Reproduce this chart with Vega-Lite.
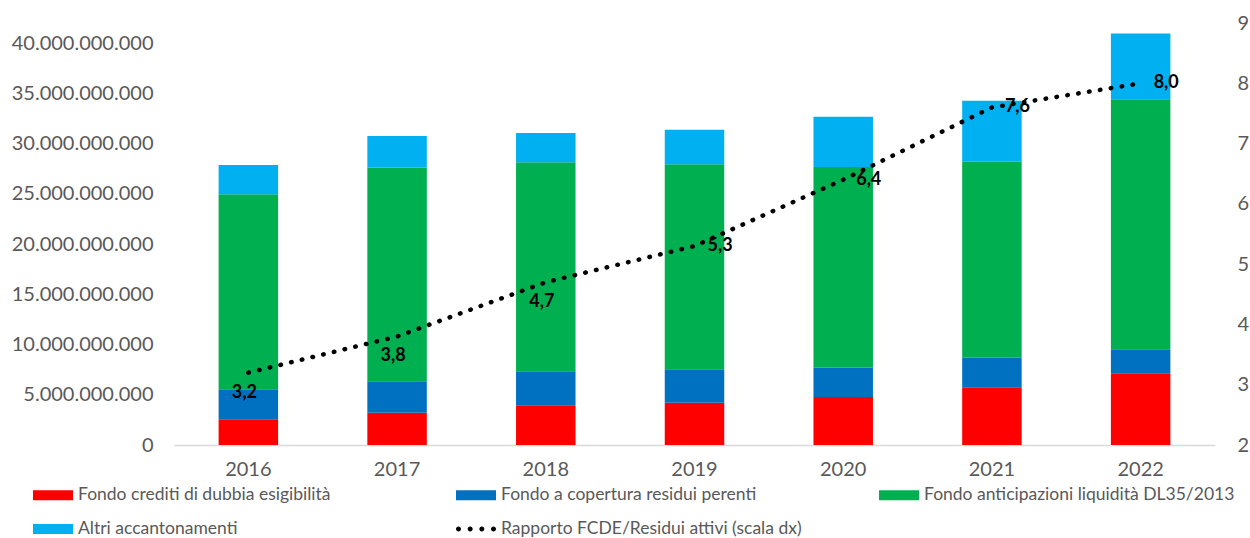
{
  "$schema": "https://vega.github.io/schema/vega-lite/v6.json",
  "width": 1041,
  "height": 422,
  "autosize": {"type": "none"},
  "padding": {"left": 174, "top": 23, "right": 35, "bottom": 93},
  "config": {
    "locale": {"number": {"decimal": ",", "thousands": ".", "grouping": [3], "currency": ["€", ""]}},
    "font": "Lato",
    "view": {"stroke": null},
    "axis": {"labelFont": "Lato", "labelColor": "#595959", "grid": false, "ticks": false, "title": null}
  },
  "datasets": {
    "barre": [
      {"anno": "2016", "serie": "Fondo crediti di dubbia esigibilità", "valore": 2560000000},
      {"anno": "2016", "serie": "Fondo a copertura residui perenti", "valore": 2980000000},
      {"anno": "2016", "serie": "Fondo anticipazioni liquidità DL35/2013", "valore": 19410000000},
      {"anno": "2016", "serie": "Altri accantonamenti", "valore": 2910000000},
      {"anno": "2017", "serie": "Fondo crediti di dubbia esigibilità", "valore": 3210000000},
      {"anno": "2017", "serie": "Fondo a copertura residui perenti", "valore": 3130000000},
      {"anno": "2017", "serie": "Fondo anticipazioni liquidità DL35/2013", "valore": 21290000000},
      {"anno": "2017", "serie": "Altri accantonamenti", "valore": 3120000000},
      {"anno": "2018", "serie": "Fondo crediti di dubbia esigibilità", "valore": 3950000000},
      {"anno": "2018", "serie": "Fondo a copertura residui perenti", "valore": 3380000000},
      {"anno": "2018", "serie": "Fondo anticipazioni liquidità DL35/2013", "valore": 20800000000},
      {"anno": "2018", "serie": "Altri accantonamenti", "valore": 2910000000},
      {"anno": "2019", "serie": "Fondo crediti di dubbia esigibilità", "valore": 4210000000},
      {"anno": "2019", "serie": "Fondo a copertura residui perenti", "valore": 3320000000},
      {"anno": "2019", "serie": "Fondo anticipazioni liquidità DL35/2013", "valore": 20400000000},
      {"anno": "2019", "serie": "Altri accantonamenti", "valore": 3440000000},
      {"anno": "2020", "serie": "Fondo crediti di dubbia esigibilità", "valore": 4780000000},
      {"anno": "2020", "serie": "Fondo a copertura residui perenti", "valore": 2910000000},
      {"anno": "2020", "serie": "Fondo anticipazioni liquidità DL35/2013", "valore": 19970000000},
      {"anno": "2020", "serie": "Altri accantonamenti", "valore": 5010000000},
      {"anno": "2021", "serie": "Fondo crediti di dubbia esigibilità", "valore": 5740000000},
      {"anno": "2021", "serie": "Fondo a copertura residui perenti", "valore": 2950000000},
      {"anno": "2021", "serie": "Fondo anticipazioni liquidità DL35/2013", "valore": 19500000000},
      {"anno": "2021", "serie": "Altri accantonamenti", "valore": 6070000000},
      {"anno": "2022", "serie": "Fondo crediti di dubbia esigibilità", "valore": 7130000000},
      {"anno": "2022", "serie": "Fondo a copertura residui perenti", "valore": 2390000000},
      {"anno": "2022", "serie": "Fondo anticipazioni liquidità DL35/2013", "valore": 24880000000},
      {"anno": "2022", "serie": "Altri accantonamenti", "valore": 6560000000}
    ],
    "rapporto": [
      {"anno": "2016", "serie": "Rapporto FCDE/Residui attivi (scala dx)", "rapporto": 3.2},
      {"anno": "2017", "serie": "Rapporto FCDE/Residui attivi (scala dx)", "rapporto": 3.8},
      {"anno": "2018", "serie": "Rapporto FCDE/Residui attivi (scala dx)", "rapporto": 4.7},
      {"anno": "2019", "serie": "Rapporto FCDE/Residui attivi (scala dx)", "rapporto": 5.3},
      {"anno": "2020", "serie": "Rapporto FCDE/Residui attivi (scala dx)", "rapporto": 6.4},
      {"anno": "2021", "serie": "Rapporto FCDE/Residui attivi (scala dx)", "rapporto": 7.6},
      {"anno": "2022", "serie": "Rapporto FCDE/Residui attivi (scala dx)", "rapporto": 8.0}
    ]
  },
  "layer": [
    {
      "data": {"name": "barre"},
      "transform": [
        {"calculate": "indexof(['Fondo crediti di dubbia esigibilità', 'Fondo a copertura residui perenti', 'Fondo anticipazioni liquidità DL35/2013', 'Altri accantonamenti'], datum.serie)", "as": "ordine"}
      ],
      "mark": {"type": "bar"},
      "encoding": {
        "x": {
          "field": "anno", "type": "ordinal",
          "scale": {"paddingInner": 0.6, "paddingOuter": 0.3},
          "axis": {"labelAngle": 0, "labelFontSize": 20, "labelPadding": 14, "domainColor": "#D9D9D9", "domainWidth": 1.3, "title": null}
        },
        "y": {
          "field": "valore", "type": "quantitative", "stack": "zero",
          "scale": {"domain": [0, 42000000000], "nice": false, "zero": true},
          "axis": {"values": [0, 5000000000, 10000000000, 15000000000, 20000000000, 25000000000, 30000000000, 35000000000, 40000000000], "format": ",d", "labelFontSize": 20, "labelPadding": 21, "domain": false, "title": null}
        },
        "order": {"field": "ordine", "type": "quantitative", "sort": "ascending"},
        "color": {
          "field": "serie", "type": "nominal",
          "sort": ["Fondo crediti di dubbia esigibilità", "Fondo a copertura residui perenti", "Fondo anticipazioni liquidità DL35/2013", "Altri accantonamenti", "Rapporto FCDE/Residui attivi (scala dx)"],
          "scale": {
            "domain": ["Fondo crediti di dubbia esigibilità", "Fondo a copertura residui perenti", "Fondo anticipazioni liquidità DL35/2013", "Altri accantonamenti", "Rapporto FCDE/Residui attivi (scala dx)"],
            "range": ["#FF0000", "#0070C0", "#00B050", "#00B0F0", "#000000"]
          },
          "legend": {
            "orient": "none", "legendX": -121, "legendY": 462,
            "direction": "horizontal", "columns": 3, "title": null,
            "symbolType": "M-3,-0.5H1V0.5H-3Z", "symbolSize": 400,
            "labelFontSize": 17.5, "labelColor": "#595959", "labelFont": "Lato",
            "labelOffset": 5, "columnPadding": 67, "rowPadding": 15, "gridAlign": "all",
            "labelLimit": 500, "padding": 0, "symbolStrokeWidth": 0,
            "encode": {
              "symbols": {
                "update": {
                  "shape": {"signal": "datum.value === 'Rapporto FCDE/Residui attivi (scala dx)' ? 'M-3,0a0.25,0.25 0 1,0 0.5,0a0.25,0.25 0 1,0 -0.5,0M-1.833,0a0.25,0.25 0 1,0 0.5,0a0.25,0.25 0 1,0 -0.5,0M-0.667,0a0.25,0.25 0 1,0 0.5,0a0.25,0.25 0 1,0 -0.5,0M0.5,0a0.25,0.25 0 1,0 0.5,0a0.25,0.25 0 1,0 -0.5,0' : 'M-3,-0.5H1V0.5H-3Z'"},
                  "fill": {"scale": "color", "field": "value"},
                  "stroke": {"value": "transparent"},
                  "opacity": {"value": 1}
                }
              }
            }
          }
        }
      }
    },
    {
      "data": {"name": "rapporto"},
      "layer": [
        {
          "mark": {"type": "line", "strokeDash": [0.5, 10.5], "strokeCap": "round", "strokeWidth": 4.5},
          "encoding": {
            "x": {"field": "anno", "type": "ordinal"},
            "y": {
              "field": "rapporto", "type": "quantitative",
              "scale": {"domain": [2, 9], "nice": false, "zero": false},
              "axis": {"orient": "right", "values": [2, 3, 4, 5, 6, 7, 8, 9], "format": "d", "labelFontSize": 20, "labelPadding": 22, "domain": false, "title": null}
            },
            "color": {"field": "serie", "type": "nominal"}
          }
        },
        {
          "transform": [{"filter": {"field": "anno", "oneOf": ["2016", "2017", "2018"]}}],
          "mark": {"type": "text", "dy": 20, "dx": -4, "fontWeight": "bold", "fontSize": 18, "color": "#000000", "font": "Lato"},
          "encoding": {
            "x": {"field": "anno", "type": "ordinal"},
            "y": {"field": "rapporto", "type": "quantitative"},
            "text": {"field": "rapporto", "type": "quantitative", "format": ".1f"}
          }
        },
        {
          "transform": [{"filter": {"field": "anno", "oneOf": ["2019", "2020", "2021", "2022"]}}],
          "mark": {"type": "text", "dx": 13, "align": "left", "fontWeight": "bold", "fontSize": 18, "color": "#000000", "font": "Lato"},
          "encoding": {
            "x": {"field": "anno", "type": "ordinal"},
            "y": {"field": "rapporto", "type": "quantitative"},
            "text": {"field": "rapporto", "type": "quantitative", "format": ".1f"}
          }
        }
      ]
    }
  ],
  "resolve": {"scale": {"y": "independent"}}
}
